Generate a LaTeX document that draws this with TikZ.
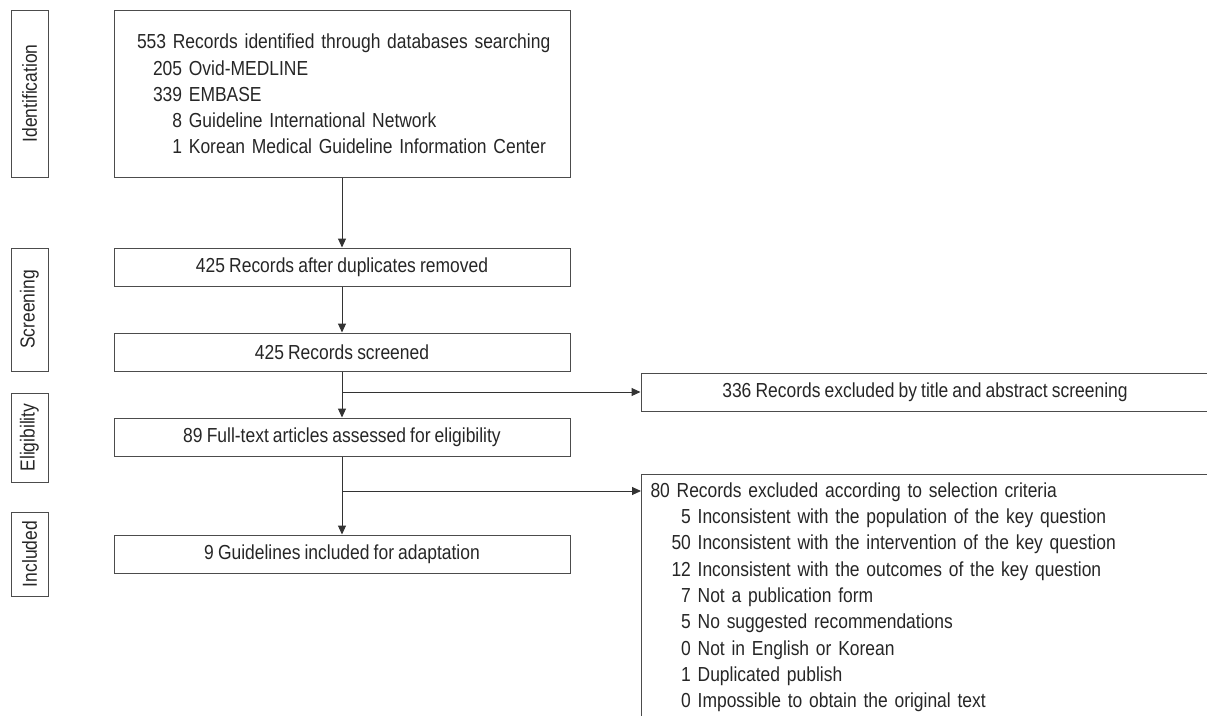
\documentclass[tikz,border=0pt]{standalone}
\usepackage{fontspec}
\setmainfont[FakeStretch=0.86, WordSpace=0.85]{Liberation Sans}
\usetikzlibrary{arrows.meta, positioning}

\tikzset{
  every node/.style={font=\fontsize{20.3}{26}\selectfont, text=black!85},
  box/.style={draw=black!70, line width=1pt, minimum width=456pt, minimum height=38pt, inner sep=0pt},
  stage/.style={draw=black!70, line width=1pt, rotate=90, minimum height=37pt, inner sep=0pt},
  arr/.style={-{Triangle[length=9pt,width=8pt]}, line width=1pt, draw=black!80},
}

\begin{document}
\begin{tikzpicture}[x=1pt,y=-1pt]
\useasboundingbox (0,0) rectangle (1207,715);
\clip (0,0) rectangle (1207,715);

% stage labels
\node[stage, minimum width=167pt] (ident) at (29.5,93.5) {Identification};
\node[stage, minimum width=123pt] (screen) at (29.5,309.5) {Screening};
\node[stage, minimum width=89pt] (elig) at (29.5,437.5) {Eligibility};
\node[stage, minimum width=84pt] (incl) at (29.5,554) {Included};

% main column
\node[box, minimum height=167pt, text width=410pt, align=left] (records) at (342,93.5) {\mbox{553 Records identified through databases searching}\\[0.5pt]
\hspace*{16pt}205 Ovid-MEDLINE\\
\hspace*{16pt}339 EMBASE\\
\hspace*{16pt}\phantom{00}8 Guideline International Network\\
\mbox{\hspace*{16pt}\phantom{00}1 Korean Medical Guideline Information Center}};
\node[box] (dup) at (342,267) {425 Records after duplicates removed};
\node[box] (screened) at (342,352) {425 Records screened};
\node[box] (fulltext) at (342,437) {89 Full-text articles assessed for eligibility};
\node[box] (guide) at (342,554) {9 Guidelines included for adaptation};

% exclusions
\node[box, minimum width=568pt] (excl1) at (925,392) {336 Records excluded by title and abstract screening};
\node[box, anchor=north west, text width=550pt, align=left, inner xsep=9pt, inner ysep=8pt,
  font=\fontsize{20.3}{26.3}\selectfont] (excl2) at (641,474) {80 Records excluded according to selection criteria\\
\hspace*{21pt}\phantom{0}5 Inconsistent with the population of the key question\\
\hspace*{21pt}50 Inconsistent with the intervention of the key question\\
\hspace*{21pt}12 Inconsistent with the outcomes of the key question\\
\hspace*{21pt}\phantom{0}7 Not a publication form\\
\hspace*{21pt}\phantom{0}5 No suggested recommendations\\
\hspace*{21pt}\phantom{0}0 Not in English or Korean\\
\hspace*{21pt}\phantom{0}1 Duplicated publish\\
\hspace*{21pt}\phantom{0}0 Impossible to obtain the original text};

% connectors
\coordinate (b1) at (342,392);
\coordinate (b2) at (342,491);
\draw[arr] (records) -- (dup);
\draw[arr] (dup) -- (screened);
\draw[arr] (screened) -- (fulltext);
\draw[arr] (fulltext) -- (guide);
\draw[arr] (b1) -- (excl1.west);
\draw[arr] (b2) -- (b2 -| excl2.west);

\end{tikzpicture}
\end{document}
